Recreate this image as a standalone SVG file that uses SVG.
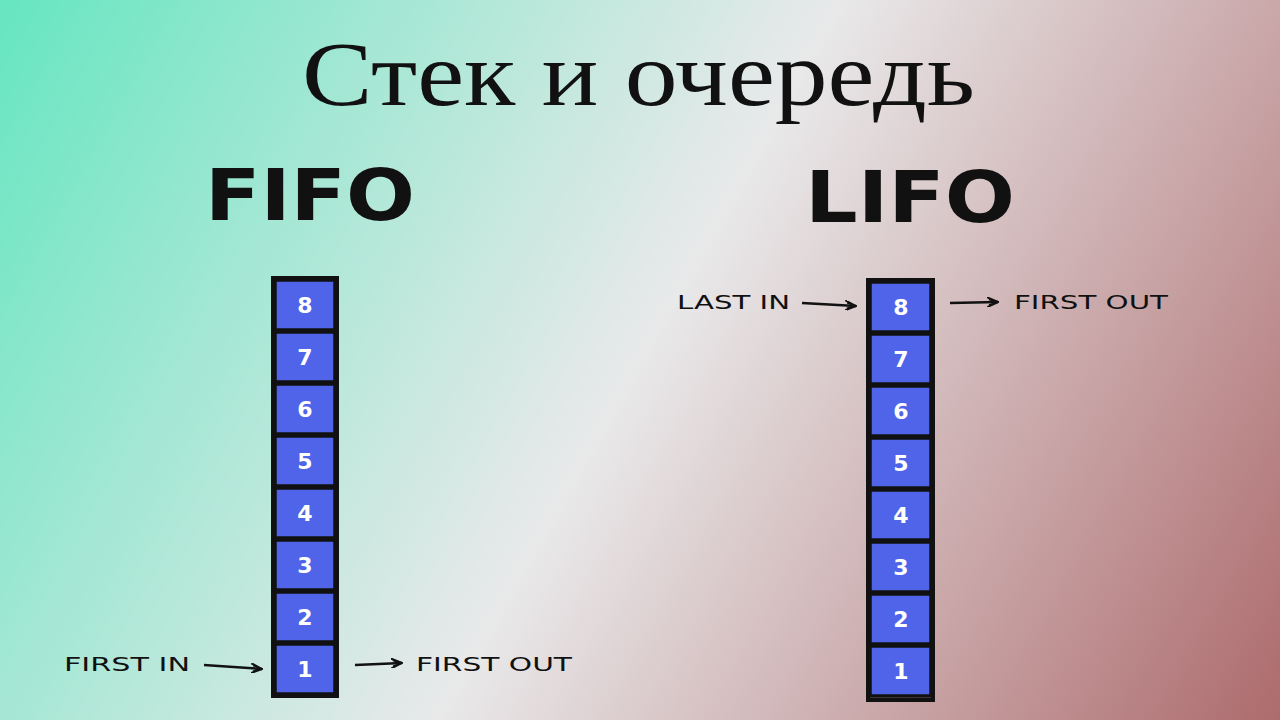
<svg xmlns="http://www.w3.org/2000/svg" width="1280" height="720" viewBox="0 0 1280 720">
<defs>
<linearGradient id="bg" x1="0" y1="0" x2="1280" y2="720" gradientUnits="userSpaceOnUse">
<stop offset="0" stop-color="#66e6c0"/>
<stop offset="0.5" stop-color="#e9e9ea"/>
<stop offset="1" stop-color="#ad6b6d"/>
</linearGradient>
<marker id="ar" viewBox="0 0 12 10" refX="11" refY="5" markerWidth="12" markerHeight="10" markerUnits="userSpaceOnUse" orient="auto"><path d="M0 0 L11 5 L0 10 M2 2 L11 5 L2 8" fill="none" stroke="#111" stroke-width="2"/></marker>
<style>
.cell{fill:#4f64e8;stroke:#111;stroke-width:3.5}
.num{font-family:"DejaVu Sans",sans-serif;font-size:22px;font-weight:bold;fill:#fff;text-anchor:middle}
.lbl{font-family:"DejaVu Sans",sans-serif;font-size:19px;fill:#111}
.hd{font-family:"DejaVu Sans",sans-serif;font-weight:bold;font-size:72px;fill:#111}
.ln{stroke:#111;stroke-width:2.5;fill:none}
</style>
</defs>
<rect width="1280" height="720" fill="url(#bg)"/>
<text x="302" y="105" font-family="'Liberation Serif','DejaVu Serif',serif" font-size="92" textLength="673" lengthAdjust="spacingAndGlyphs" fill="#111">Стек и очередь</text>
<text class="hd" x="205" y="220" textLength="210" lengthAdjust="spacingAndGlyphs">FIFO</text>
<text class="hd" x="805" y="222" textLength="210" lengthAdjust="spacingAndGlyphs">LIFO</text>
<g id="fifo">
<rect x="273" y="278" width="64" height="418" fill="none" stroke="#111" stroke-width="4"/>
<g id="f8"><rect class="cell" x="275" y="280" width="60" height="50"/><text class="num" x="305" y="313">8</text></g>
<g id="f7"><rect class="cell" x="275" y="332" width="60" height="50"/><text class="num" x="305" y="365">7</text></g>
<g id="f6"><rect class="cell" x="275" y="384" width="60" height="50"/><text class="num" x="305" y="417">6</text></g>
<g id="f5"><rect class="cell" x="275" y="436" width="60" height="50"/><text class="num" x="305" y="469">5</text></g>
<g id="f4"><rect class="cell" x="275" y="488" width="60" height="50"/><text class="num" x="305" y="521">4</text></g>
<g id="f3"><rect class="cell" x="275" y="540" width="60" height="50"/><text class="num" x="305" y="573">3</text></g>
<g id="f2"><rect class="cell" x="275" y="592" width="60" height="50"/><text class="num" x="305" y="625">2</text></g>
<g id="f1"><rect class="cell" x="275" y="644" width="60" height="50"/><text class="num" x="305" y="677">1</text></g>
</g>
<g id="lifo">
<rect x="868" y="280" width="65" height="420" fill="none" stroke="#111" stroke-width="4"/>
<g id="l8"><rect class="cell" x="870" y="282" width="61" height="50"/><text class="num" x="901" y="315">8</text></g>
<g id="l7"><rect class="cell" x="870" y="334" width="61" height="50"/><text class="num" x="901" y="367">7</text></g>
<g id="l6"><rect class="cell" x="870" y="386" width="61" height="50"/><text class="num" x="901" y="419">6</text></g>
<g id="l5"><rect class="cell" x="870" y="438" width="61" height="50"/><text class="num" x="901" y="471">5</text></g>
<g id="l4"><rect class="cell" x="870" y="490" width="61" height="50"/><text class="num" x="901" y="523">4</text></g>
<g id="l3"><rect class="cell" x="870" y="542" width="61" height="50"/><text class="num" x="901" y="575">3</text></g>
<g id="l2"><rect class="cell" x="870" y="594" width="61" height="50"/><text class="num" x="901" y="627">2</text></g>
<g id="l1"><rect class="cell" x="870" y="646" width="61" height="50"/><text class="num" x="901" y="679">1</text></g>
</g>
<g id="labels">
<text class="lbl" x="64" y="671" textLength="126" lengthAdjust="spacingAndGlyphs">FIRST IN</text>
<text class="lbl" x="416" y="671" textLength="156" lengthAdjust="spacingAndGlyphs">FIRST OUT</text>
<text class="lbl" x="677" y="309" textLength="113" lengthAdjust="spacingAndGlyphs">LAST IN</text>
<text class="lbl" x="1014" y="309" textLength="154" lengthAdjust="spacingAndGlyphs">FIRST OUT</text>
</g>
<g id="connectors">
<line class="ln" x1="204" y1="665" x2="262" y2="669" marker-end="url(#ar)"/>
<line class="ln" x1="355" y1="665" x2="402" y2="663" marker-end="url(#ar)"/>
<line class="ln" x1="802" y1="303" x2="856" y2="306" marker-end="url(#ar)"/>
<line class="ln" x1="950" y1="303" x2="998" y2="302" marker-end="url(#ar)"/>
</g>
</svg>
